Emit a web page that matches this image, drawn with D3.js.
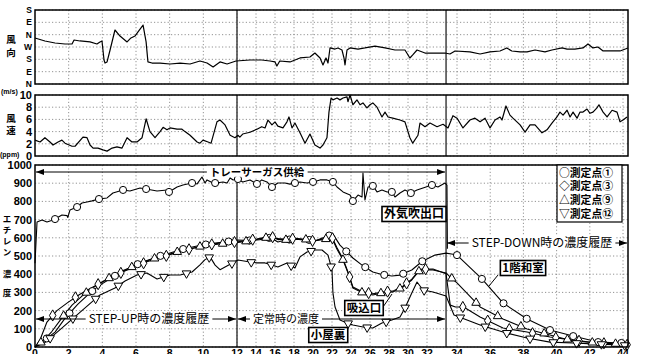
<!DOCTYPE html>
<html><head><meta charset="utf-8">
<script src="https://cdn.jsdelivr.net/npm/d3@7"></script>
<style>
body{margin:0;background:#fff}
svg{display:block}
</style></head><body>
<svg id="c" width="654" height="354"></svg>
<script>
// ---- time axis (hours) ----
const timeTicks = d3.range(0, 45, 2);
const timeBreaks = [0, 12, 32, 34, 44.3];      // piecewise time axis
const dividerTimes = [12, 33.27];

// ---- wind direction (deg, N=0) ----
const dirTicks = [0, 90, 180, 270, 360, 450, 540];
const dirLabels = ["N", "E", "S", "W", "N", "E", "S"];
const windDir = [[0,336],[0.59,314],[1.19,299],[1.78,292],[2.2,292],[2.32,321],[2.67,314],[3.27,307],[3.68,292],[3.86,307],[3.98,314],[4.1,175],[4.16,153],[4.28,161],[4.46,248],[4.75,394],[5.05,350],[5.47,307],[5.7,336],[5.94,350],[6.12,380],[6.42,430],[6.6,307],[6.71,161],[6.95,153],[7.43,153],[8.02,146],[8.62,153],[9.21,146],[9.8,168],[10.22,153],[10.58,124],[10.99,161],[11.41,146],[11.94,168],[13.37,175],[14.6,175],[15.47,168],[16,161],[16.2,131],[16.5,168],[17.58,161],[18.63,190],[19.68,197],[20.2,226],[20.74,190],[21.05,139],[21.37,190],[21.58,153],[21.79,263],[22.32,255],[22.63,263],[23.05,248],[23.26,190],[23.37,139],[23.58,248],[23.9,263],[24.74,255],[25.47,263],[26.53,277],[27.58,263],[28.63,248],[29.68,248],[30.2,190],[30.5,212],[30.95,248],[31.79,226],[32.53,226],[33.2,226],[33.53,219],[33.87,241],[34.78,234],[35.39,219],[35.99,234],[36.59,241],[37.0,263],[37.3,241],[37.8,234],[38.22,234],[38.7,248],[39.3,234],[39.72,248],[40.33,263],[40.63,255],[41.1,255],[41.59,263],[41.89,292],[42.19,263],[42.49,270],[42.8,241],[43.34,241],[43.82,241],[44.3,263]];

// ---- wind speed (m/s) ----
const speedTicks = [0, 2, 4, 6, 8, 10];
const windSpeed = [[0,2.6],[0.3,2.3],[0.59,3.0],[0.89,2.3],[1.07,1.8],[1.37,2.3],[1.6,2.6],[1.78,2.1],[2.2,1.6],[2.38,1.6],[2.85,3.1],[3.09,3.0],[3.27,1.8],[3.45,1.3],[3.74,1.3],[4.04,1.0],[4.28,0.8],[4.58,1.3],[4.87,1.5],[5.17,1.3],[5.47,3.0],[5.76,2.3],[6.06,2.3],[6.36,3.0],[6.6,6.1],[6.83,4.0],[7.13,3.0],[7.43,4.0],[7.61,4.7],[7.84,4.3],[8.02,4.6],[8.44,4.4],[8.73,4.4],[8.91,4.0],[9.21,3.4],[9.63,2.3],[9.8,2.1],[9.98,2.6],[10.28,2.3],[10.46,2.1],[10.81,5.6],[10.99,5.9],[11.29,5.1],[11.59,3.4],[11.88,3.0],[12.1,3.4],[12.3,3.1],[12.6,3.6],[13.37,3.9],[14.1,4.4],[14.6,4.8],[14.95,4.6],[15.26,5.9],[15.68,5.1],[16,5.6],[16.3,4.9],[16.84,4.6],[17.26,5.6],[17.47,6.4],[17.79,4.6],[18.1,5.4],[18.63,3.8],[19.16,2.1],[19.68,3.6],[20.2,1.8],[20.74,1.3],[21.05,1.8],[21.47,3.0],[21.68,7.2],[21.9,9.5],[22.1,9.2],[22.53,9.5],[22.84,9.2],[23.16,9.5],[23.58,9.7],[23.68,8.9],[23.9,10.0],[24.2,8.4],[24.63,9.2],[24.95,8.4],[25.26,8.7],[25.68,7.9],[26,8.4],[26.3,8.7],[26.74,8.0],[27.26,6.4],[27.58,7.2],[27.9,6.4],[28.4,6.2],[29.16,5.9],[29.68,5.6],[30.2,3.0],[30.5,2.1],[31.05,3.4],[31.26,5.4],[31.79,4.8],[32.2,5.4],[32.67,4.8],[33.07,5.2],[33.4,4.6],[33.73,6.6],[34,6.2],[34.36,4.6],[34.78,5.9],[35.08,6.2],[35.39,5.6],[35.69,6.2],[35.99,4.6],[36.29,5.9],[36.59,6.4],[36.71,5.9],[36.95,8.2],[37.19,6.7],[37.37,6.2],[37.61,5.6],[37.8,5.1],[38.1,3.9],[38.4,5.1],[38.7,5.1],[39.12,3.8],[39.42,4.3],[39.72,5.4],[40.02,6.4],[40.2,7.2],[40.39,6.7],[40.63,7.5],[40.81,6.4],[40.99,7.2],[41.23,6.2],[41.41,7.2],[41.59,7.2],[41.83,7.7],[42.01,7.0],[42.19,7.2],[42.43,7.9],[42.55,8.4],[42.8,7.2],[43.04,6.4],[43.34,7.5],[43.64,7.2],[43.82,5.6],[44,5.9],[44.24,6.4]];

// ---- ethylene concentration (ppm) ----
const ppmTicks = [0, 100, 200, 300, 400, 500, 600, 700, 800, 900, 1000];
const outletPpm = [[0,460],[0.12,687],[0.42,698],[0.71,687],[1.07,698],[1.19,703],[1.6,725],[1.9,722],[1.95,712],[2.08,753],[2.5,769],[2.79,791],[3.09,797],[3.39,803],[3.8,813],[4.28,819],[4.63,846],[5.23,863],[5.64,857],[6.24,874],[6.6,868],[7.25,857],[7.84,863],[7.96,852],[8.44,879],[8.79,890],[9.33,901],[9.63,896],[9.92,934],[10.1,901],[10.22,918],[10.58,901],[10.75,901],[11.17,907],[11.41,901],[11.59,929],[11.77,918],[12.1,923],[12.6,907],[13.37,918],[14.1,896],[14.6,918],[15.16,907],[15.68,879],[16.3,901],[17.05,901],[17.58,895],[18.1,901],[18.63,907],[19.37,901],[20,907],[20.74,918],[21.47,918],[22.1,907],[22.53,879],[23.16,852],[23.9,835],[24.2,802],[24.74,835],[25.16,824],[25.26,956],[25.47,808],[25.79,879],[26.3,885],[26.74,852],[27.26,863],[27.8,852],[28.3,852],[28.63,824],[29.16,846],[29.68,863],[30.3,846],[30.95,863],[31.58,874],[32.33,890],[32.73,879],[33.2,901],[33.33,890],[33.36,540]];
const p1Ppm = [[0,0],[0.6,40],[1.19,82],[1.8,160],[2.55,236],[3.3,300],[3.86,340],[4.63,385],[5.23,415],[5.82,445],[6.65,475],[7.25,495],[8.02,517],[8.79,538],[9.63,555],[10.58,570],[11.4,578],[12.1,588],[13.37,585],[14.4,590],[15.47,600],[16.5,595],[17.58,590],[18.63,592],[19.68,588],[20.2,582],[21.05,600],[22.1,620],[22.84,560],[24.2,489],[25.16,450],[26.3,412],[27.26,398],[28.3,390],[29.16,395],[30.4,423],[31.47,470],[32.53,505],[33.27,516],[33.73,510],[34,505],[35.5,374],[36.77,242],[38.22,154],[39.6,93],[40.99,60],[42.49,27],[43.94,22],[44.3,15]];
const p3Ppm = [[0,0],[0.3,40],[0.71,137],[1.3,200],[1.96,245],[2.67,290],[3.45,330],[4.28,372],[5.23,413],[6.06,445],[6.65,468],[7.6,495],[8.44,520],[9.2,538],[9.98,555],[10.99,572],[12.1,578],[13.37,588],[14.1,593],[15.47,610],[16.3,590],[17.9,595],[19.37,586],[20.2,582],[21.05,595],[22.0,603],[22.5,548],[23.16,484],[23.68,412],[24.2,330],[25.26,302],[26.3,292],[27.26,302],[28.4,307],[29.5,335],[30.4,373],[31.26,427],[32.4,428],[33.27,402],[33.55,230],[33.9,220],[34.4,220],[35.39,165],[36.77,104],[38.22,82],[39.6,55],[40.99,38],[42.49,22],[43.94,16],[44.3,12]];
const p9Ppm = [[0,0],[0.5,35],[1.0,85],[1.6,160],[2.2,230],[2.79,280],[3.5,330],[4.28,372],[5.23,420],[6.06,450],[6.8,478],[7.6,500],[8.44,522],[9.2,540],[9.98,555],[10.99,566],[12.1,575],[13.37,583],[14.4,595],[15.47,603],[16.3,577],[17.9,599],[19.37,590],[20.2,585],[21.05,590],[22.0,599],[22.5,540],[23.16,478],[23.68,407],[24.2,324],[25.26,297],[26.3,286],[27.26,297],[28.4,302],[29.5,330],[30.4,368],[31.26,423],[32.4,423],[33.27,407],[33.6,380],[34,352],[35.39,220],[36.77,154],[38.22,99],[39.6,66],[40.99,33],[42.49,22],[43.94,16],[44.3,12]];
const p12Ppm = [[0,0],[0.6,25],[1.3,80],[2.55,181],[3.86,286],[4.75,324],[5.35,363],[6.06,396],[6.65,407],[7.25,374],[8.02,396],[8.62,396],[9.33,412],[9.8,451],[10.1,480],[10.4,495],[10.7,450],[10.99,425],[11.4,445],[12.1,478],[13.37,467],[14.1,462],[14.95,462],[15.68,451],[16.3,440],[17.26,462],[18.1,434],[18.63,495],[19.37,522],[20.2,533],[20.95,533],[21.58,505],[22.0,423],[22.1,297],[22.32,220],[22.84,148],[23.58,132],[24.2,121],[25.26,110],[26.3,104],[27.26,132],[28.3,148],[29.16,165],[29.68,214],[30.4,297],[30.95,357],[31.58,313],[32.4,302],[33.27,280],[33.8,176],[35.39,121],[36.77,82],[38.22,49],[39.6,27],[40.99,22],[42.49,16],[43.94,11],[44.3,8]];

// marker times along the curves
const pointMarkTimes = [0.7,2.05,3.4,4.75,6.1,7.45,8.8,10.15,11.5,13.3,15.4,17.5,19.6,21.7,23.5,25.5,27.5,29.5,31.5,34,35.5,36.8,38.2,39.6,41.0,42.5,43.9];
const outletMarkTimes = [1.19,2.5,3.8,5.23,6.6,7.96,9.33,10.7,12.1,14.1,15.68,18.1,20,22.1,24.2,26.3,28.3,30.3,32.33];

const seriesNames = ["測定点①", "測定点③", "測定点⑨", "測定点⑫"];
const seriesGlyphs = ["○", "◇", "△", "▽"];

// ---- layout ----
const L = 35, R = 628;
const svg = d3.select("#c");
const FONT = "'Liberation Sans','Noto Sans CJK JP',sans-serif";
const JFONT = "'Noto Sans CJK JP','Liberation Sans',sans-serif";

const x = d3.scaleLinear().domain(timeBreaks).range([35, 237, 427, 457, 628]);
const yDir = d3.scaleLinear().domain([0, 540]).range([84, 10]);
const ySpd = d3.scaleLinear().domain([0, 10]).range([156, 95]);
const yPpm = d3.scaleLinear().domain([0, 1000]).range([347, 165]);

const defs = svg.append("defs");
defs.append("marker").attr("id", "arr").attr("viewBox", "0 0 8 6")
  .attr("refX", 8).attr("refY", 3).attr("markerWidth", 8).attr("markerHeight", 6)
  .attr("markerUnits", "userSpaceOnUse").attr("orient", "auto-start-reverse")
  .append("path").attr("d", "M0,0L8,3L0,6Z").attr("fill", "#000");

function panel(y, ticks, labels, fs) {
  const g = svg.append("g");
  const [b, t] = y.range();
  // horizontal grid
  g.selectAll(".hg").data(ticks).join("line")
    .attr("x1", L).attr("x2", R).attr("y1", d => y(d)).attr("y2", d => y(d))
    .attr("stroke", "#777").attr("stroke-width", 0.8).attr("stroke-dasharray", "1.2,2.2");
  // vertical grid
  g.selectAll(".vg").data(timeTicks.filter(d => d > 0)).join("line")
    .attr("x1", d => x(d)).attr("x2", d => x(d)).attr("y1", t).attr("y2", b)
    .attr("stroke", "#777").attr("stroke-width", 0.8).attr("stroke-dasharray", "1.2,2.2");
  // dividers
  g.selectAll(".dv").data(dividerTimes).join("line")
    .attr("x1", d => x(d)).attr("x2", d => x(d)).attr("y1", t).attr("y2", b)
    .attr("stroke", "#333").attr("stroke-width", 1.4);
  // tick labels
  g.selectAll(".tl").data(ticks).join("text")
    .attr("x", 32).attr("y", d => y(d)).attr("dy", "0.36em")
    .attr("text-anchor", "end").attr("font-family", FONT).attr("font-weight", "bold")
    .attr("font-size", fs)
    .text((d, i) => labels ? labels[i] : d);
  return g;
}

function frame(y) {
  const [b, t] = y.range();
  svg.append("rect").attr("x", L).attr("y", t).attr("width", R - L).attr("height", b - t)
    .attr("fill", "none").attr("stroke", "#000").attr("stroke-width", 1.5);
}

panel(yDir, dirTicks, dirLabels, 8.5);
panel(ySpd, speedTicks, null, 11);
panel(yPpm, ppmTicks, null, 11);

function line(y) { return d3.line().x(d => x(d[0])).y(d => y(d[1])); }

svg.append("path").datum(windDir).attr("d", line(yDir))
  .attr("fill", "none").attr("stroke", "#000").attr("stroke-width", 1.2).attr("stroke-linejoin", "round");
svg.append("path").datum(windSpeed).attr("d", line(ySpd))
  .attr("fill", "none").attr("stroke", "#000").attr("stroke-width", 1.2).attr("stroke-linejoin", "round");

// concentration curves
const ppmSeries = [p1Ppm, p3Ppm, p9Ppm, p12Ppm];
const symbols = [d3.symbolCircle, d3.symbolDiamond, d3.symbolTriangle, d3.symbolTriangle];
const symSize = [40, 36, 32, 32];
const symRot = [0, 0, 0, 180];
const markShift = [0, 0.35, -0.35, 0.2];

svg.append("path").datum(outletPpm).attr("d", line(yPpm))
  .attr("fill", "none").attr("stroke", "#000").attr("stroke-width", 1.1).attr("stroke-linejoin", "round");
ppmSeries.forEach(s => {
  svg.append("path").datum(s).attr("d", line(yPpm))
    .attr("fill", "none").attr("stroke", "#000").attr("stroke-width", 1.1).attr("stroke-linejoin", "round");
});

function at(s, t) {
  for (let i = 1; i < s.length; i++) {
    if (t <= s[i][0]) {
      const [t0, v0] = s[i - 1], [t1, v1] = s[i];
      return v0 + (v1 - v0) * (t - t0) / (t1 - t0);
    }
  }
  return s[s.length - 1][1];
}

function drawMarks(s, times, k) {
  const pts = times.filter(t => t > s[0][0] && t < s[s.length - 1][0]).map(t => [t, at(s, t)]);
  svg.append("g").selectAll("path").data(pts).join("path")
    .attr("d", d3.symbol().type(symbols[k]).size(symSize[k]))
    .attr("transform", d => `translate(${x(d[0])},${yPpm(d[1])}) rotate(${symRot[k]})`)
    .attr("fill", "#fff").attr("stroke", "#000").attr("stroke-width", 1);
}
drawMarks(outletPpm, outletMarkTimes, 0);
ppmSeries.forEach((s, k) => drawMarks(s, pointMarkTimes.map(t => t + markShift[k]), k));

frame(yDir); frame(ySpd); frame(yPpm);

// x tick labels (the bottom row is clipped by the canvas edge)
svg.append("g").selectAll("text").data(timeTicks).join("text")
  .attr("x", d => x(d)).attr("y", 357).attr("text-anchor", "middle")
  .attr("font-family", FONT).attr("font-weight", "bold").attr("font-size", 10.5)
  .text(d => d);

// axis titles
function vtext(chars, ys, xx, fs) {
  svg.append("g").selectAll("text").data(chars).join("text")
    .attr("x", xx).attr("y", (d, i) => ys[i]).attr("dy", "0.35em").attr("text-anchor", "middle")
    .attr("font-family", JFONT).attr("font-weight", "bold").attr("font-size", fs).text(d => d);
}
vtext(["風", "向"], [40, 53], 11, 9.5);
vtext(["風", "速"], [119, 131], 11, 9.5);
vtext(["エ", "チ", "レ", "ン", "濃", "度"], [219, 230, 241, 252, 274, 293], 7, 8.5);
svg.append("text").attr("x", 1).attr("y", 94).attr("font-family", FONT).attr("font-weight", "bold")
  .attr("font-size", 7).text("(m/s)");
svg.append("text").attr("x", 0).attr("y", 156.5).attr("font-family", FONT).attr("font-weight", "bold")
  .attr("font-size", 7).text("(ppm)");

// annotations: spans with arrows and labels
function span(t0, t1, yv, label, cx, fs, weight) {
  svg.append("line").attr("x1", x(t0) + 1).attr("x2", x(t1) - 1).attr("y1", yv).attr("y2", yv)
    .attr("stroke", "#000").attr("stroke-width", 1)
    .attr("marker-start", "url(#arr)").attr("marker-end", "url(#arr)");
  const tx = svg.append("text").attr("x", cx).attr("y", yv).attr("dy", "0.36em")
    .attr("text-anchor", "middle").attr("font-family", JFONT).attr("font-size", fs)
    .attr("font-weight", weight).text(label);
  const bb = tx.node().getBBox();
  svg.insert("rect", () => tx.node()).attr("x", bb.x - 3).attr("y", bb.y + 2)
    .attr("width", bb.width + 6).attr("height", bb.height - 4).attr("fill", "#fff");
}
span(0, 33.27, 172, "トレーサーガス供給", 257, 10.5, "bold");
span(0, 12, 319, "STEP-UP時の濃度履歴", 149, 12, "normal");
span(12, 33.27, 319, "定常時の濃度", 286, 11, "normal");
span(33.27, 44.3, 243, "STEP-DOWN時の濃度履歴", 542, 12, "normal");

// callout boxes
function box(label, cx, cy, fs) {
  const tx = svg.append("text").attr("x", cx).attr("y", cy).attr("dy", "0.36em")
    .attr("text-anchor", "middle").attr("font-family", JFONT).attr("font-size", fs)
    .attr("font-weight", "bold").text(label);
  const bb = tx.node().getBBox();
  svg.insert("rect", () => tx.node()).attr("x", bb.x - 2).attr("y", cy - 7.5)
    .attr("width", bb.width + 4).attr("height", 15).attr("fill", "#fff")
    .attr("stroke", "#000").attr("stroke-width", 1.6);
}
// leader lines
svg.append("line").attr("x1", 498).attr("y1", 275).attr("x2", 489).attr("y2", 286).attr("stroke", "#000");
svg.append("line").attr("x1", 383).attr("y1", 307).attr("x2", 392).attr("y2", 294).attr("stroke", "#000");
box("外気吹出口", 414, 214, 12);
box("吸込口", 364, 308, 11.5);
box("小屋裏", 328, 335, 11.5);
box("1階和室", 523, 268, 11.5);

// legend
const lg = svg.append("g");
lg.append("rect").attr("x", 557).attr("y", 165).attr("width", 65).attr("height", 57)
  .attr("fill", "#fff").attr("stroke", "#000").attr("stroke-width", 1.2);
lg.selectAll("text").data(seriesNames).join("text")
  .attr("x", 559).attr("y", (d, i) => 173 + i * 13.6).attr("dy", "0.36em")
  .attr("font-family", JFONT).attr("font-weight", "bold").attr("font-size", 10.8)
  .text((d, i) => seriesGlyphs[i] + d);
</script>
</body></html>
